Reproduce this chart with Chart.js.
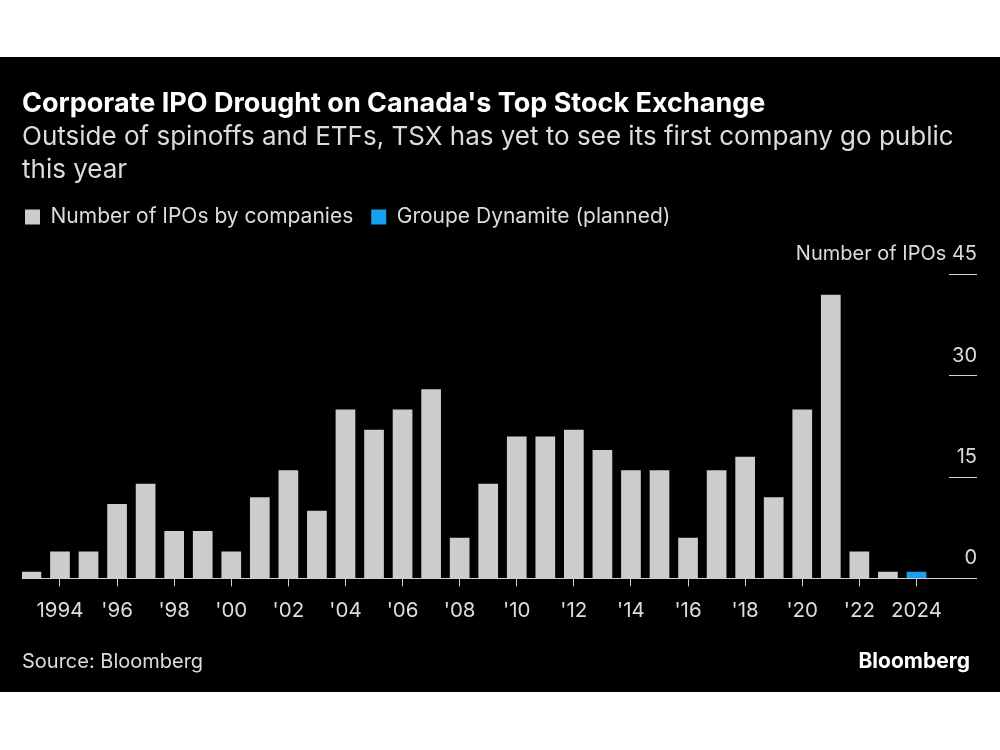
<!DOCTYPE html>
<html>
<head>
<meta charset="utf-8">
<title>Corporate IPO Drought on Canada's Top Stock Exchange</title>
<script src="https://cdn.jsdelivr.net/npm/chart.js@4.4.1/dist/chart.umd.min.js"></script>
<style>
  html, body { margin: 0; padding: 0; background: #fff; }
  #panel { position: absolute; left: 0; top: 57px; width: 1000px; height: 635px; background: #000; }
  #chart { display: block; }
  .foot { position: absolute; top: 592px; line-height: 24px; font-family: Inter, 'Liberation Sans', sans-serif; }
  #source { left: 22px; font-size: 20px; color: #dcdcdc; }
  #brand { right: 30px; font-size: 21px; font-weight: bold; color: #fff; }
</style>
</head>
<body>
<div id="panel">
  <canvas id="chart" width="1000" height="635"></canvas>
  <div id="source" class="foot">Source: Bloomberg</div>
  <div id="brand" class="foot">Bloomberg</div>
</div>
<script>
// ---- data ----
const years = [1993, 1994, 1995, 1996, 1997, 1998, 1999, 2000, 2001, 2002, 2003,
  2004, 2005, 2006, 2007, 2008, 2009, 2010, 2011, 2012, 2013, 2014, 2015,
  2016, 2017, 2018, 2019, 2020, 2021, 2022, 2023];
const ipoCounts = [1, 4, 4, 11, 14, 7, 7, 4, 12, 16, 10,
  25, 22, 25, 28, 6, 14, 21, 21, 22, 19, 16, 16,
  6, 16, 18, 12, 25, 42, 4, 1];
const plannedYears = [2024];
const plannedCounts = [1];
const xTickYears = [1994, 1996, 1998, 2000, 2002, 2004, 2006, 2008, 2010,
  2012, 2014, 2016, 2018, 2020, 2022, 2024];
const yTickValues = [0, 15, 30, 45];

const GRAY = '#cccccc';
const BLUE = '#18a0f0';
const TEXT = '#dcdcdc';
const LINE = '#d0d0d0';

Chart.defaults.font.family = "Inter, 'Liberation Sans', sans-serif";

// legend sits a bit left of its own padding, and leaves a gap above the plot
const legendTweaks = {
  id: 'legendTweaks',
  beforeLayout(chart) {
    const legend = chart.legend;
    if (legend && !legend._gapPatched) {
      const fit = legend.fit;
      legend.fit = function () {
        fit.call(this);
        this.height += 37;
      };
      legend._gapPatched = true;
    }
  },
  afterLayout(chart) {
    chart.legend.left -= 15;
    chart.legend.right -= 15;
  }
};

new Chart(document.getElementById('chart'), {
  type: 'bar',
  data: {
    datasets: [{
      label: 'Number of IPOs by companies',
      data: years.map((y, i) => ({ x: y, y: ipoCounts[i] })),
      backgroundColor: GRAY,
      borderWidth: 0
    }, {
      label: 'Groupe Dynamite (planned)',
      data: plannedYears.map((y, i) => ({ x: y, y: plannedCounts[i] })),
      backgroundColor: BLUE,
      borderWidth: 0
    }]
  },
  options: {
    responsive: false,
    animation: false,
    grouped: false,
    barPercentage: 0.69,
    categoryPercentage: 1,
    layout: { padding: { left: 22, right: 23, top: 0, bottom: 57 } },
    plugins: {
      title: {
        display: true,
        align: 'start',
        text: "Corporate IPO Drought on Canada's Top Stock Exchange",
        color: '#ffffff',
        font: { size: 27, weight: 'bold' },
        padding: { top: 31, bottom: 0 }
      },
      subtitle: {
        display: true,
        align: 'start',
        text: ['Outside of spinoffs and ETFs, TSX has yet to see its first company go public', 'this year'],
        color: TEXT,
        font: { size: 26, lineHeight: 33 / 26 },
        padding: { top: 0, bottom: 2 }
      },
      legend: {
        align: 'start',
        labels: {
          boxWidth: 15,
          boxHeight: 15,
          padding: 18,
          color: TEXT,
          font: { size: 21 }
        }
      },
      tooltip: { enabled: false }
    },
    scales: {
      x: {
        type: 'linear',
        offset: false,
        min: 1992.67,
        max: 2025.14,
        afterBuildTicks: s => { s.ticks = xTickYears.map(v => ({ value: v })); },
        border: { display: true, color: LINE, width: 1 },
        grid: { offset: false, drawOnChartArea: false, drawTicks: true, tickLength: 8, color: LINE },
        ticks: {
          color: TEXT,
          font: { size: 20.5 },
          padding: 12,
          maxRotation: 0,
          autoSkip: false,
          callback: v => (v === 1994 || v === 2024) ? String(v) : "'" + String(v).slice(2)
        }
      },
      y: {
        position: 'right',
        min: 0,
        max: 45,
        afterBuildTicks: s => { s.ticks = yTickValues.map(v => ({ value: v })); },
        afterFit: s => { s.width = 28; },
        border: { display: false },
        grid: { drawOnChartArea: false, drawTicks: true, tickLength: 28, color: LINE },
        ticks: {
          mirror: true,
          crossAlign: 'near',
          padding: 28,
          labelOffset: -20,
          color: TEXT,
          font: { size: 20 },
          callback: v => v === 45 ? 'Number of IPOs 45' : String(v)
        }
      }
    }
  },
  plugins: [legendTweaks]
});
</script>
</body>
</html>
